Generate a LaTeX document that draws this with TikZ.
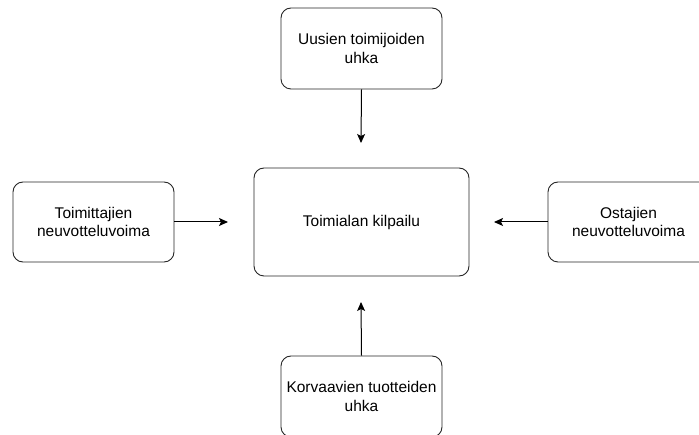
\documentclass[tikz,border=0pt]{standalone}
\usepackage{fontspec}
\setmainfont{Liberation Sans}
\usetikzlibrary{arrows.meta}
\begin{document}
\begin{tikzpicture}[x=1pt,y=-1pt,
  box/.style={draw=black!85,line width=0.9pt,rounded corners=10pt,align=center,font=\fontsize{15.5}{18.5}\selectfont,inner sep=0pt},
  arr/.style={draw=black,line width=1pt,-{Stealth[length=9pt,width=8pt,inset=2pt]}}]
\useasboundingbox (0,0) rectangle (699,435);
\clip (0,0) rectangle (699,435);
\node[box,minimum width=161pt,minimum height=81pt] (top) at (361.5,48.5) {Uusien toimijoiden\\uhka};
\node[box,minimum width=161pt,minimum height=80pt] (left) at (93.5,222) {Toimittajien\\neuvotteluvoima};
\node[box,minimum width=161pt,minimum height=80pt] (right) at (628.5,222) {Ostajien\\neuvotteluvoima};
\node[box,minimum width=215pt,minimum height=108pt] (center) at (361.5,222) {Toimialan kilpailu};
\node[box,minimum width=161pt,minimum height=81pt] (bottom) at (361.5,396.5) {Korvaavien tuotteiden\\uhka};
\coordinate (ta) at (361,143);
\coordinate (la) at (228,222);
\coordinate (ra) at (494,222);
\coordinate (ba) at (361,302);
\draw[arr] (top.south) -- (ta);
\draw[arr] (left.east) -- (la);
\draw[arr] (right.west) -- (ra);
\draw[arr] (bottom.north) -- (ba);
\end{tikzpicture}
\end{document}
